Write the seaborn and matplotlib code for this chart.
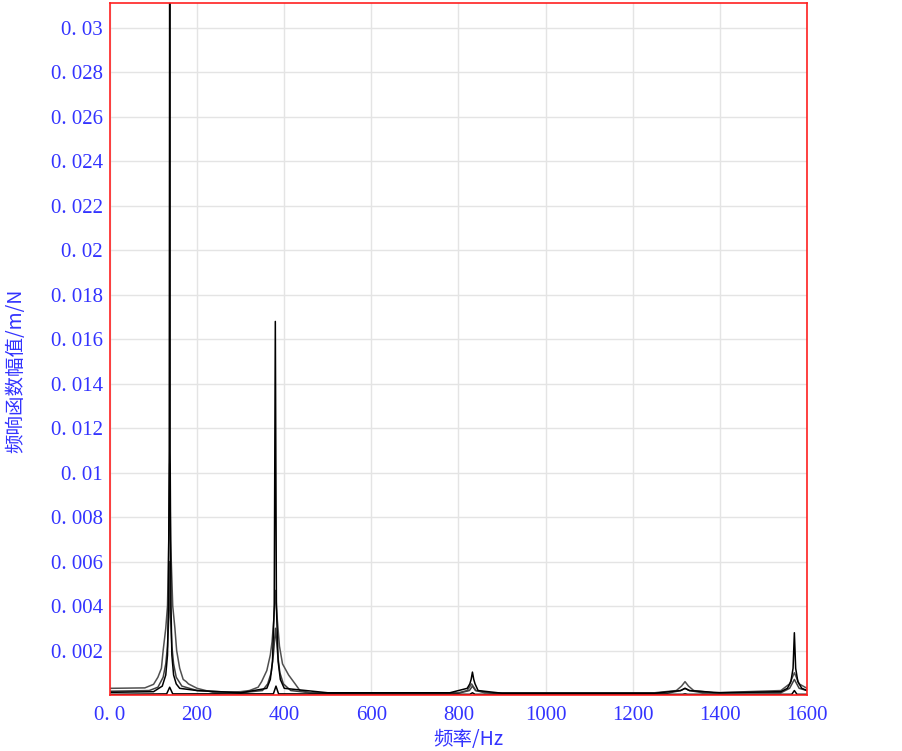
import matplotlib
matplotlib.use("Agg")
import matplotlib.pyplot as plt
import seaborn as sns
import pandas as pd

# ---- data ----
s1_freq = [0, 100, 120, 128, 132, 134, 136, 137, 138, 140, 142, 146, 152, 160, 200, 300,
           360, 368, 373, 377, 379.5, 382, 386, 391, 400, 500, 780, 820, 826, 829, 832,
           835, 838, 845, 900, 1250, 1310, 1320, 1330, 1400, 1540, 1555, 1563, 1568, 1571,
           1574, 1579, 1588, 1600]
s1_val = [0.00012, 0.00015, 0.0004, 0.0009, 0.0018, 0.004, 0.011, 0.034, 0.011, 0.004,
          0.0018, 0.0009, 0.0005, 0.0003, 0.0002, 0.0001, 0.0003, 0.0007, 0.0015, 0.004,
          0.0168, 0.004, 0.0015, 0.0007, 0.0003, 0.0001, 0.0001, 0.0003, 0.0005, 0.0007,
          0.00103, 0.0007, 0.0005, 0.0002, 0.00008, 0.00008, 0.0002, 0.0003, 0.0002,
          0.0001, 0.00015, 0.0003, 0.0006, 0.0012, 0.0028, 0.0012, 0.0006, 0.0003, 0.0002]

s2_freq = [0, 80, 90, 100, 110, 118, 122, 128, 132, 135, 137, 139, 144, 149, 153, 160, 168,
           175, 180, 200, 240, 300, 320, 340, 348, 360, 368, 372, 376, 380, 384, 389, 396,
           410, 425, 436, 460, 500, 800, 820, 830, 840, 860, 1250, 1300, 1312, 1320, 1328,
           1340, 1385, 1540, 1560, 1571, 1582, 1600]
s2_val = [0.00030, 0.00032, 0.0004, 0.00048, 0.0008, 0.0012, 0.002, 0.003, 0.004, 0.007,
          0.0104, 0.007, 0.004, 0.003, 0.002, 0.0012, 0.0007, 0.0006, 0.0005, 0.0003, 0.0001,
          0.00015, 0.0002, 0.00035, 0.0006, 0.0011, 0.0018, 0.0024, 0.0034, 0.0047, 0.0034,
          0.0022, 0.0014, 0.0009, 0.0005, 0.0002, 0.0001, 0.00008, 0.0001, 0.0002, 0.0005,
          0.0002, 0.0001, 0.0001, 0.0002, 0.0004, 0.0006, 0.0004, 0.0002, 0.0001, 0.0002,
          0.0005, 0.0010, 0.0005, 0.0003]

s3_freq = [0, 90, 110, 122, 128, 132, 135, 137, 139, 142, 146, 152, 165, 200, 300, 350, 362,
           370, 375, 380, 385, 390, 398, 415, 460, 800, 825, 832, 839, 880, 1280, 1310,
           1320, 1330, 1360, 1540, 1560, 1571, 1582, 1600]
s3_val = [0.00017, 0.0002, 0.00035, 0.0008, 0.0014, 0.0022, 0.0035, 0.006, 0.0035, 0.0022,
          0.0014, 0.0008, 0.0004, 0.0002, 0.0001, 0.0002, 0.0005, 0.001, 0.0018, 0.003,
          0.0018, 0.001, 0.0005, 0.0002, 0.0001, 0.00008, 0.0002, 0.0004, 0.0002, 0.00008,
          0.00008, 0.0002, 0.0003, 0.0002, 0.0001, 0.0001, 0.0003, 0.0007, 0.0003, 0.0002]

s4_freq = [0, 130, 137, 144, 375, 381, 387, 826, 832, 838, 1314, 1320, 1326, 1565, 1571,
           1577, 1600]
s4_val = [0.00003, 0.00005, 0.00035, 0.00005, 0.00005, 0.0004, 0.00005, 0.00003, 0.0001,
          0.00003, 0.00003, 0.00005, 0.00003, 0.00003, 0.0002, 0.00003, 0.00003]

x_ticks = [0, 200, 400, 600, 800, 1000, 1200, 1400, 1600]
x_labels = ["0. 0", "200", "400", "600", "800", "1000", "1200", "1400", "1600"]
y_ticks = [0.002, 0.004, 0.006, 0.008, 0.010, 0.012, 0.014, 0.016, 0.018, 0.020, 0.022,
           0.024, 0.026, 0.028, 0.030]
y_labels = ["0. 002", "0. 004", "0. 006", "0. 008", "0. 01", "0. 012", "0. 014", "0. 016",
            "0. 018", "0. 02", "0. 022", "0. 024", "0. 026", "0. 028", "0. 03"]

series = [(s2_freq, s2_val, "#505050"), (s3_freq, s3_val, "#404040"),
          (s4_freq, s4_val, "#000000"), (s1_freq, s1_val, "#000000")]

sns.set_style("white")
plt.rcParams['font.family'] = ['Liberation Serif', 'DejaVu Serif']

fig = plt.figure(figsize=(9.03, 7.51), dpi=100)
ax = fig.add_axes([110 / 903, 1 - 695 / 751, (807 - 110) / 903, (695 - 3) / 751])

for f, v, c in series:
    df = pd.DataFrame({"f": f, "v": v})
    sns.lineplot(data=df, x="f", y="v", ax=ax, color=c, linewidth=1.1,
                 estimator=None, sort=False)

ax.set_xlim(0, 1600)
ax.set_ylim(0, 0.03112)
ax.set_xticks(x_ticks)
ax.set_xticklabels(x_labels)
ax.set_yticks(y_ticks)
ax.set_yticklabels(y_labels)
ax.grid(True, color="#e4e4e4", linewidth=1.0)
ax.set_axisbelow(True)
ax.tick_params(axis="both", length=0, labelsize=15, colors="#3333ff")
ax.tick_params(axis="x", pad=8)
ax.tick_params(axis="y", pad=5)
for sp in ax.spines.values():
    sp.set_color("#ff2020")
    sp.set_linewidth(1.2)
    sp.set_visible(True)

ax.set_xlabel("频率/Hz", fontsize=14, color="#3333ff",
              family=['Noto Sans CJK SC', 'DejaVu Sans'])
ax.set_ylabel("频响函数幅值/m/N", fontsize=14, color="#3333ff",
              family=['Noto Sans CJK SC', 'DejaVu Sans'])
ax.xaxis.label.set_va("center")
ax.yaxis.label.set_va("center")
ax.xaxis.set_label_coords((468 - 110) / 697, -(740 - 695) / 692)
ax.yaxis.set_label_coords((16 - 110) / 697, (695 - 371) / 692)

fig.savefig("out.png", dpi=100)
